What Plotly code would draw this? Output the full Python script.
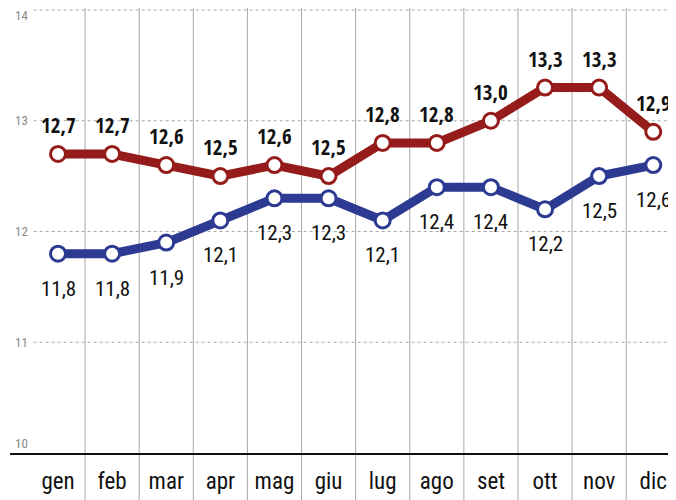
import plotly.graph_objects as go

months = ["gen", "feb", "mar", "apr", "mag", "giu", "lug", "ago", "set", "ott", "nov", "dic"]
red_values = [12.7, 12.7, 12.6, 12.5, 12.6, 12.5, 12.8, 12.8, 13.0, 13.3, 13.3, 12.9]
blue_values = [11.8, 11.8, 11.9, 12.1, 12.3, 12.3, 12.1, 12.4, 12.4, 12.2, 12.5, 12.6]
y_ticks = [10, 11, 12, 13, 14]

RED = "#961c1c"
BLUE = "#2c3a92"
BOLD_FONT = "Open Sans Condensed, Roboto Condensed, Roboto, sans-serif"
REG_FONT = "Roboto Condensed, Roboto, sans-serif"


def fmt(v):
    return f"{v:.1f}".replace(".", ",")


fig = go.Figure()

for vals, col in [(red_values, RED), (blue_values, BLUE)]:
    fig.add_trace(go.Scatter(
        x=months, y=vals, mode="lines+markers",
        line=dict(color=col, width=9),
        marker=dict(size=15, color="white", line=dict(color=col, width=3)),
        hoverinfo="skip", showlegend=False,
    ))

annotations = []
for m, v in zip(months, red_values):
    annotations.append(dict(x=m, y=v, text=f"<b>{fmt(v)}</b>", showarrow=False,
                            yshift=29, font=dict(family=BOLD_FONT, size=21, color="#111")))
for m, v in zip(months, blue_values):
    annotations.append(dict(x=m, y=v, text=fmt(v), showarrow=False,
                            yshift=-35, font=dict(family=REG_FONT, size=21, color="#111")))
# y-axis tick labels (annotations so the top and bottom ones stay visible)
for t in y_ticks:
    if t == y_ticks[0]:
        shift = 10
    elif t == y_ticks[-1]:
        shift = -6
    else:
        shift = 0
    annotations.append(dict(xref="paper", yref="y", x=0.004, y=t, xanchor="left",
                            yanchor="middle", yshift=shift,
                            text=str(t), showarrow=False,
                            font=dict(family=REG_FONT, size=13, color="#888")))

shapes = []
# separators between months, running down through the label row
for i in range(len(months) - 1):
    shapes.append(dict(type="line", xref="x", yref="paper", x0=i + 0.5, x1=i + 0.5,
                       y0=-0.106, y1=1.0, line=dict(color="#a8a8a8", width=1),
                       layer="below"))
# horizontal gridlines
for t in y_ticks[1:]:
    shapes.append(dict(type="line", xref="x", yref="y", x0=-0.45, x1=11.6, y0=t, y1=t,
                       line=dict(color="#a8a8a8", width=1, dash="dot"), layer="below"))

fig.update_layout(
    width=668, height=492,
    margin=dict(l=2, r=0, t=0, b=47, autoexpand=False),
    paper_bgcolor="white", plot_bgcolor="white",
    annotations=annotations, shapes=shapes,
    xaxis=dict(
        type="category", range=[-0.887, 11.42], showgrid=False,
        showline=True, linecolor="#111", linewidth=2,
        ticks="outside", ticklen=6, tickcolor="rgba(0,0,0,0)",
        tickfont=dict(family=REG_FONT, size=23, color="#111"),
        zeroline=False, fixedrange=True,
    ),
    yaxis=dict(
        range=[10, 14.018], showticklabels=False, showgrid=False, zeroline=False,
        showline=False, fixedrange=True,
    ),
)

fig.write_html("out.html")
